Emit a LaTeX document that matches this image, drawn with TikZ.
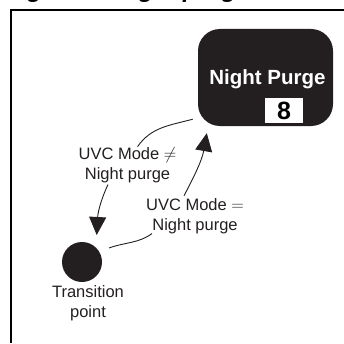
\documentclass[tikz,border=0pt]{standalone}
\usepackage{fontspec}
\setmainfont{Liberation Sans}
\usetikzlibrary{arrows.meta}
\definecolor{stateBlack}{RGB}{35,31,32}

\begin{document}
\begin{tikzpicture}[x=1pt, y=1pt,
    lbl/.style={align=center, text=stateBlack, inner sep=1pt, font=\fontsize{16.5}{20}\selectfont},
    trans/.style={line width=0.9pt, draw=stateBlack},
    transarrow/.style={trans, -{Triangle[length=18pt, width=17pt]}}]
  \useasboundingbox (0,0) rectangle (344,343);
  \clip (0,0) rectangle (344,343);
  % title, cut by the top of the page
  \node[anchor=base west, inner sep=0pt, font=\fontsize{24}{28}\selectfont\bfseries\itshape] (title) at (6,345) {Figure 8. Night purge};
  % frame
  \draw[line width=2.5pt] (11,0) -- (11,333) -- (345,333);
  % states
  \node[fill=stateBlack, rounded corners=22pt, minimum width=135pt, minimum height=97pt] (purge) at (265.5,265.5) {};
  \node[anchor=base, text=white, font=\fontsize{20.5}{24}\selectfont\bfseries] (purgename) at (267.5,258) {Night Purge};
  \node[fill=white, minimum width=38pt, minimum height=25pt, inner sep=0pt, font=\fontsize{25}{28}\selectfont\bfseries] (purgenum) at (284,232.5) {8};
  \node[circle, fill=stateBlack, minimum size=40pt, inner sep=0pt] (tp) at (82,81) {};
  \node[lbl] (tplabel) at (88,39.4) {Transition\\point};
  % transition labels
  \node[lbl] (neq) at (127.5,177.4) {UVC Mode $\neq$\\Night purge};
  \node[lbl] (eq) at (195,126.4) {UVC Mode $=$\\Night purge};
  % transitions
  \draw[trans] ([shift={(-5,7)}]purge.south west) to[out=195, in=55] ([xshift=10pt]neq.north);
  \draw[transarrow] ([xshift=-19.5pt]neq.south) to[out=245, in=87] ([shift={(14.7,27)}]tp.center);
  \draw[trans] ([shift={(27,14)}]tp.center) to[out=20, in=215] ([shift={(-43,-17)}]eq.center);
  \draw[transarrow] ([shift={(-11,2)}]eq.north) to[out=62, in=260] ([shift={(9,-7)}]purge.south west);
\end{tikzpicture}
\end{document}
